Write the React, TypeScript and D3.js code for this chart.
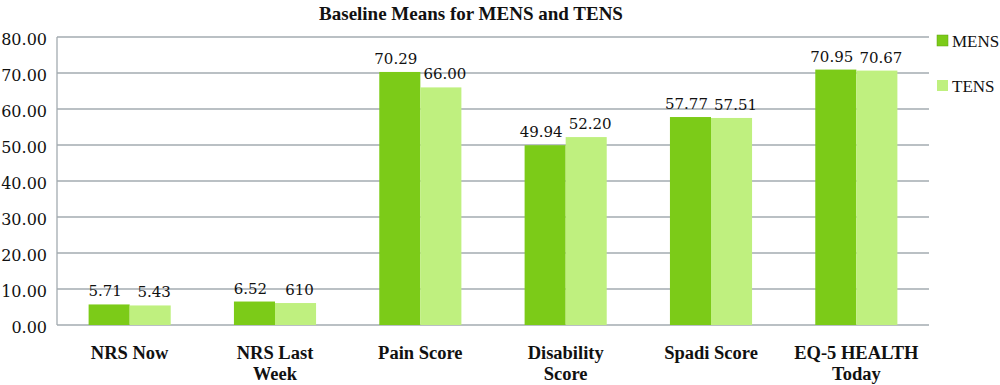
import React from "react";
import * as d3 from "d3";

const categories: string[][] = [
  ["NRS Now"],
  ["NRS Last", "Week"],
  ["Pain Score"],
  ["Disability", "Score"],
  ["Spadi Score"],
  ["EQ-5 HEALTH", "Today"],
];
const mensValues = [5.71, 6.52, 70.29, 49.94, 57.77, 70.95];
const tensValues = [5.43, 6.1, 66.0, 52.2, 57.51, 70.67];
const mensLabels = ["5.71", "6.52", "70.29", "49.94", "57.77", "70.95"];
const tensLabels = ["5.43", "610", "66.00", "52.20", "57.51", "70.67"];
const yTicks = [0, 10, 20, 30, 40, 50, 60, 70, 80];
const seriesNames = ["MENS", "TENS"];
const colors = ["#7ccb18", "#bff07f"];

export default function App() {
  const W = 1000, H = 385;
  const left = 57, right = 929, top = 37, bottom = 325;
  const y = d3.scaleLinear().domain([0, 80]).range([bottom, top]);
  const x = d3.scaleBand<number>().domain(d3.range(categories.length)).range([left, right]).paddingInner(0.435).paddingOuter(0.2175);
  const bw = x.bandwidth() / 2;
  const serif = "'Liberation Serif', serif";
  const numFont = "'DejaVu Serif', serif";
  const series = [mensValues, tensValues];
  const labels = [mensLabels, tensLabels];
  const labelShift = [-4, 4];
  return (
    <svg width={W} height={H} style={{ position: "absolute", left: 0, top: 0, background: "#fff" }} fontFamily={serif}>
      <text x={471} y={20} textAnchor="middle" fontWeight="bold" fontSize={19} fill="#111">
        Baseline Means for MENS and TENS
      </text>
      {yTicks.map((t) => (
        <g key={t}>
          <line x1={left} x2={right} y1={y(t)} y2={y(t)} stroke="#a3abb0" strokeWidth={1.3} />
          <text x={47} y={y(t) + 8} textAnchor="end" fontSize={16} fill="#111" fontFamily={numFont}>
            {t.toFixed(2)}
          </text>
        </g>
      ))}
      <line x1={left} x2={left} y1={top} y2={bottom} stroke="#a3abb0" strokeWidth={1.3} />
      {series.map((vals, si) =>
        vals.map((v, i) => {
          const bx = (x(i) as number) + si * bw;
          return (
            <g key={`${si}-${i}`}>
              <rect x={bx} y={y(v)} width={bw} height={bottom - y(v)} fill={colors[si]} />
              <text x={bx + bw / 2 + labelShift[si]} y={y(v) - 8} textAnchor="middle" fontSize={15} fill="#111" fontFamily={numFont}>
                {labels[si][i]}
              </text>
            </g>
          );
        })
      )}
      {categories.map((lines, i) => (
        <text key={i} textAnchor="middle" fontWeight="bold" fontSize={18.5} fill="#111">
          {lines.map((l, j) => (
            <tspan key={j} x={(x(i) as number) + x.bandwidth() / 2} y={359 + j * 21}>
              {l}
            </tspan>
          ))}
        </text>
      ))}
      {seriesNames.map((n, i) => (
        <g key={n}>
          <rect x={937} y={35 + i * 45} width={11} height={11} fill={colors[i]} stroke={i === 0 ? "#5da010" : "none"} strokeWidth={0.5} />
          <text x={952} y={47 + i * 45} fontSize={17} fill="#111">
            {n}
          </text>
        </g>
      ))}
    </svg>
  );
}
